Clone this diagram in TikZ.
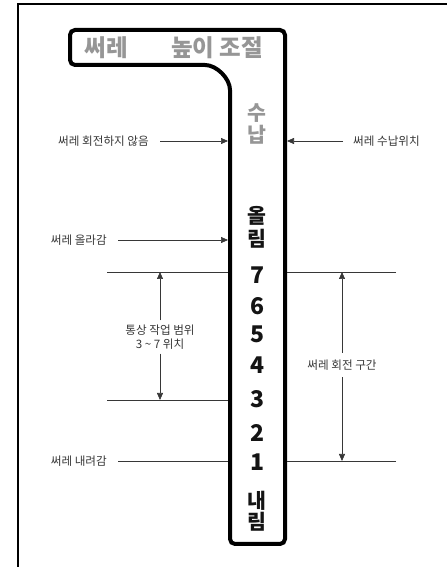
\documentclass[tikz,border=0pt]{standalone}
\usepackage{fontspec}
\setmainfont{Noto Sans CJK KR}
\usepackage{tikz}
\usetikzlibrary{arrows.meta,positioning,calc}
\definecolor{zw}{RGB}{20,20,20}
\definecolor{gr}{RGB}{150,150,150}
\definecolor{dk}{RGB}{55,55,55}
\newcommand{\GR}[1]{\textcolor{gr}{#1}}
\newcommand{\ZW}[1]{\textcolor{zw}{#1}}
\tikzset{
  lbl/.style={font=\fontsize{11.6}{14.5}\selectfont,text=dk,inner sep=1pt},
  colchar/.style={font=\fontsize{23}{25}\selectfont\bfseries,inner sep=0pt},
  colhan/.style={font=\fontsize{20.5}{22}\selectfont\bfseries,inner sep=0pt},
  ttl/.style={font=\fontsize{23.5}{25}\selectfont\bfseries},
  rule/.style={line width=0.7pt,draw=dk},
  arr/.style={rule,-{Triangle[length=7pt,width=6pt]}},
}

\begin{document}
\begin{tikzpicture}[x=1pt,y=1pt]
  \useasboundingbox (0,0) rectangle (447,567);

  % outer board
  \draw[line width=2pt] (18,0) -- (18,563) -- (447,563);

  % holder outline
  \draw[line width=4pt,rounded corners=5pt,fill=white] (70,537) -- (285,537) -- (285,23) -- (230,23) -- (230,472) arc[start angle=0,end angle=90,radius=30] -- (70,502) -- cycle;
  \coordinate (edgeL) at (228,0);
  \coordinate (edgeR) at (287,0);

  % title
  \node[ttl] (ttlA) at (106,519) {\GR{써레}};
  \node[ttl] (ttlB) at (217,519) {\GR{높이 조절}};

  % column texts
  \node[colhan] (su) at (257,454) {\GR{수}};
  \node[colhan] (nap) at (257,432) {\GR{납}};
  \node[colhan] (ol) at (257,351) {\ZW{올}};
  \node[colhan] (rimA) at (257,328) {\ZW{림}};
  \node[colchar] (n7) at (257,292) {\ZW{7}};
  \node[colchar] (n6) at (257,261) {\ZW{6}};
  \node[colchar] (n5) at (257,233) {\ZW{5}};
  \node[colchar] (n4) at (257,202) {\ZW{4}};
  \node[colchar] (n3) at (257,168) {\ZW{3}};
  \node[colchar] (n2) at (257,134) {\ZW{2}};
  \node[colchar] (n1) at (257,105) {\ZW{1}};
  \node[colhan] (nae) at (257,66) {\ZW{내}};
  \node[colhan] (rimB) at (257,45) {\ZW{림}};

  % labels with arrows
  \node[lbl,anchor=east] (norot) at (150,426) {써레 회전하지 않음};
  \draw[arr] ([xshift=10pt]norot.east) -- (edgeL |- norot.east);

  \node[lbl,anchor=west] (stow) at (352,426) {써레 수납위치};
  \draw[arr] ([xshift=-9pt]stow.west) -- (edgeR |- stow.west);

  \node[lbl,anchor=east] (up) at (108,327) {써레 올라감};
  \draw[arr] ([xshift=10pt]up.east) -- (edgeL |- up.east);

  \node[lbl,anchor=east] (down) at (108,106) {써레 내려감};
  \draw[rule] ([xshift=10pt]down.east) -- (edgeL |- down.east);

  % range lines
  \coordinate (top7L) at (107,295);
  \coordinate (top7R) at (396,295);
  \coordinate (bot3L) at (107,167);
  \coordinate (bot1R) at (396,106);
  \draw[rule] (top7L) -- (top7L -| edgeL);
  \draw[rule] (top7R) -- (top7R -| edgeR);
  \draw[rule] (bot3L) -- (bot3L -| edgeL);
  \draw[rule] (bot1R) -- (bot1R -| edgeR);

  % usual working range
  \node[lbl,align=center] (usual) at (160,230) {통상 작업 범위\\3 \textasciitilde{} 7 위치};
  \draw[arr] ([yshift=3pt]usual.north) -- (usual.north |- top7L);
  \draw[arr] ([yshift=-3pt]usual.south) -- (usual.south |- bot3L);

  % rotation zone
  \node[lbl] (rotzone) at (342,202) {써레 회전 구간};
  \draw[arr] ([yshift=6pt]rotzone.north) -- (rotzone.north |- top7R);
  \draw[arr] ([yshift=-6pt]rotzone.south) -- (rotzone.south |- bot1R);
\end{tikzpicture}
\end{document}
